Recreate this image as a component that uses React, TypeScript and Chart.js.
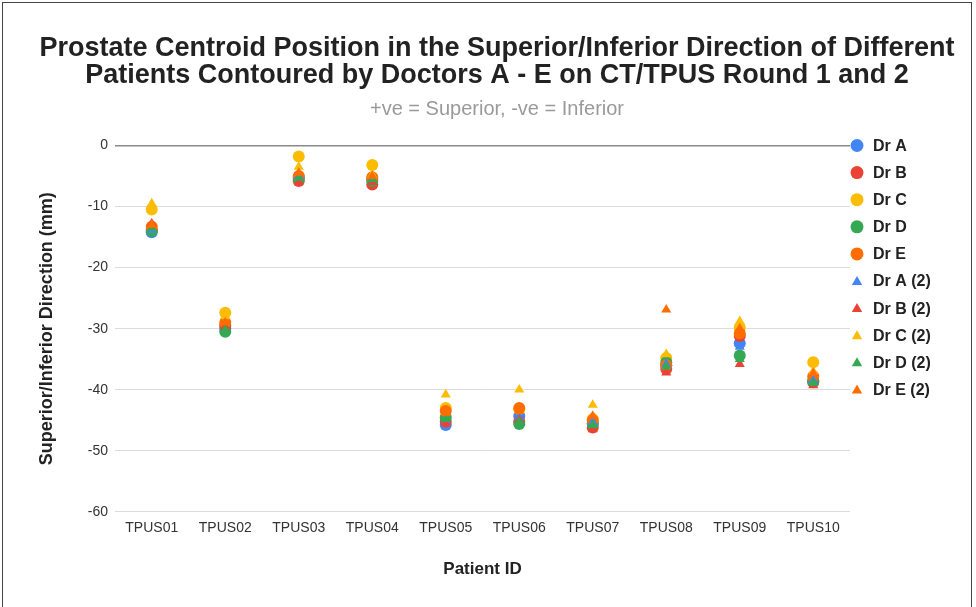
import React, { useEffect, useRef } from "react";
import { Chart, registerables } from "chart.js";
Chart.register(...registerables);

const categories = ["TPUS01", "TPUS02", "TPUS03", "TPUS04", "TPUS05", "TPUS06", "TPUS07", "TPUS08", "TPUS09", "TPUS10"];

const drA = [-14.2, -30.0, -5.2, -5.5, -45.8, -44.3, -45.5, -36.0, -32.4, -38.6];
const drB = [-13.8, -29.5, -5.8, -6.4, -45.2, -45.2, -46.2, -36.6, -31.2, -38.8];
const drC = [-10.5, -27.4, -1.8, -3.2, -43.0, -43.2, -44.8, -34.8, -29.8, -35.5];
const drD = [-14.0, -30.5, -5.5, -5.8, -44.5, -45.6, -45.6, -35.5, -34.4, -38.5];
const drE = [-13.3, -29.0, -5.0, -5.2, -43.5, -43.0, -45.0, -36.0, -30.8, -37.8];
const drA2 = [-13.8, -30.0, -5.0, -5.5, -45.0, -44.5, -45.3, -35.8, -33.0, -38.5];
const drB2 = [-12.8, -29.8, -6.0, -6.0, -45.5, -45.0, -46.5, -37.2, -35.8, -39.3];
const drC2 = [-9.5, -28.0, -3.5, -4.8, -40.8, -40.0, -42.5, -34.2, -28.8, -37.0];
const drD2 = [-13.5, -30.2, -5.3, -5.5, -44.8, -45.3, -45.8, -36.2, -35.0, -38.9];
const drE2 = [-13.0, -29.0, -4.5, -5.0, -43.8, -43.5, -44.3, -26.9, -30.0, -37.3];

const yTicks = [0, -10, -20, -30, -40, -50, -60];

const seriesNames = ["Dr A", "Dr B", "Dr C", "Dr D", "Dr E", "Dr A (2)", "Dr B (2)", "Dr C (2)", "Dr D (2)", "Dr E (2)"];
const seriesData = [drA, drB, drC, drD, drE, drA2, drB2, drC2, drD2, drE2];
const palette = ["#4285F4", "#EA4335", "#FBBC04", "#34A853", "#FF6D01"];

const FONT = "'Liberation Sans', Arial, Helvetica, sans-serif";

function drawTriangle(ctx: CanvasRenderingContext2D, x: number, y: number, r: number) {
  let rad = 0;
  ctx.beginPath();
  ctx.moveTo(x + Math.sin(rad) * r, y - Math.cos(rad) * r);
  rad += (2 * Math.PI) / 3;
  ctx.lineTo(x + Math.sin(rad) * r, y - Math.cos(rad) * r);
  rad += (2 * Math.PI) / 3;
  ctx.lineTo(x + Math.sin(rad) * r, y - Math.cos(rad) * r);
  ctx.closePath();
  ctx.fill();
}

const sideLegend = {
  id: "sideLegend",
  afterDraw(chart: any) {
    const { ctx, chartArea } = chart;
    const step = 27.1;
    ctx.save();
    chart.data.datasets.forEach((ds: any, i: number) => {
      const y = chartArea.top + i * step;
      const mx = chartArea.right + 7;
      ctx.fillStyle = ds.backgroundColor;
      if (ds.pointStyle === "triangle") {
        drawTriangle(ctx, mx, y + 1, 6);
      } else {
        ctx.beginPath();
        ctx.arc(mx, y, 6.5, 0, Math.PI * 2);
        ctx.fill();
      }
      ctx.fillStyle = "#222";
      ctx.font = `bold 16px ${FONT}`;
      ctx.textAlign = "left";
      ctx.textBaseline = "middle";
      ctx.fillText(ds.label, chartArea.right + 23, y + 1);
    });
    ctx.restore();
  },
};

export default function App() {
  const ref = useRef<HTMLCanvasElement | null>(null);
  useEffect(() => {
    if (!ref.current) return;
    const datasets = seriesNames.map((name, i) => {
      const color = palette[i % 5];
      const tri = i >= 5;
      return {
        label: name,
        data: seriesData[i],
        showLine: false,
        backgroundColor: color,
        borderColor: color,
        borderWidth: 0,
        pointStyle: tri ? "triangle" : "circle",
        pointRadius: tri ? 5.8 : 6,
        pointHoverRadius: tri ? 5.8 : 6,
        order: 20 - i,
      };
    });
    const chart = new Chart(ref.current, {
      type: "line",
      data: { labels: categories, datasets: datasets as any },
      plugins: [sideLegend],
      options: {
        animation: false,
        responsive: false,
        maintainAspectRatio: false,
        layout: { padding: { left: 36, right: 18, top: 0, bottom: 27 } },
        plugins: {
          title: {
            display: true,
            text: [
              "Prostate Centroid Position in the Superior/Inferior Direction of Different",
              "Patients Contoured by Doctors A - E on CT/TPUS Round 1 and 2",
            ],
            color: "#222",
            font: { family: FONT, size: 27, weight: "bold", lineHeight: 1.0 },
            padding: { top: 35.5, bottom: 8 },
          },
          subtitle: {
            display: true,
            text: "+ve = Superior, -ve = Inferior",
            color: "#9a9a9a",
            font: { family: FONT, size: 20, lineHeight: 1.2 },
            padding: { top: 0, bottom: 24 },
          },
          legend: { display: false },
          tooltip: { enabled: false },
        },
        scales: {
          x: {
            type: "category",
            offset: true,
            grid: { display: false, drawTicks: false },
            border: { display: false },
            ticks: { color: "#333", font: { family: FONT, size: 14 }, padding: 8, maxRotation: 0 },
            title: {
              display: true,
              text: "Patient ID",
              color: "#222",
              font: { family: FONT, size: 17, weight: "bold" },
              padding: { top: 15, bottom: 0 },
            },
          },
          y: {
            min: -60,
            max: 0,
            afterBuildTicks: (axis: any) => {
              axis.ticks = yTicks.map((v) => ({ value: v }));
            },
            afterFit: (s: any) => {
              s.width = 79;
            },
            grid: {
              color: (ctx: any) => (ctx.tick && ctx.tick.value === 0 ? "#8a8a8a" : "#dcdcdc"),
              lineWidth: (ctx: any) => (ctx.tick && ctx.tick.value === 0 ? 1.5 : 1),
              drawTicks: false,
            },
            border: { display: false },
            ticks: { color: "#333", font: { family: FONT, size: 14 }, padding: 7 },
            title: {
              display: true,
              text: "Superior/Inferior Direction (mm)",
              color: "#222",
              font: { family: FONT, size: 18, weight: "bold" },
              padding: { top: 0, bottom: 0 },
            },
          },
          legendSpace: {
            type: "linear",
            position: "right",
            display: true,
            grid: { display: false, drawTicks: false },
            border: { display: false },
            ticks: { display: false },
            afterFit: (s: any) => {
              s.width = 108;
            },
          },
        },
      } as any,
    });
    return () => chart.destroy();
  }, []);
  return (
    <div style={{ position: "absolute", left: 0, top: 0, width: 976, height: 607, background: "#fff", overflow: "hidden" }}>
      <canvas ref={ref} width={976} height={607} style={{ position: "absolute", left: 0, top: 0 }} />
      <div
        style={{
          position: "absolute",
          left: 2,
          top: 2,
          width: 968,
          height: 620,
          border: "1.5px solid #444",
          pointerEvents: "none",
        }}
      />
    </div>
  );
}
